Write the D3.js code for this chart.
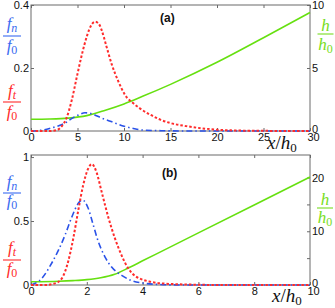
<!DOCTYPE html>
<html><head><meta charset="utf-8">
<script src="https://cdn.jsdelivr.net/npm/d3@7"></script>
<style>
html,body{margin:0;padding:0;background:#fff;}
svg{display:block;}
.tick text{font-family:"Liberation Sans",Arial,sans-serif;font-size:11px;fill:#111;}
</style></head>
<body>
<svg id="c" width="335" height="308"></svg>
<script>
// ---- data: panel (a) ----
const aXTicks = [0,5,10,15,20,25,30];
const aLeftTicks = [0,0.2,0.4];
const aRightTicks = [0,5,10];
const aFt = [[0,0],[1,0],[2,0],[2.8,0.003],[3.3,0.015],[3.8,0.04],[4.4,0.1],[4.9,0.168],[5.45,0.24],[6,0.3],[6.5,0.337],[6.9,0.347],[7.3,0.34],[7.6,0.32],[8.1,0.27],[8.7,0.21],[9.4,0.157],[10.1,0.115],[11,0.088],[11.7,0.072],[12.8,0.052],[13.9,0.036],[14.9,0.026],[17,0.014],[19.2,0.006],[21.5,0.002],[25,0.0005],[30,0]];
const aFn = [[0,0],[1,0.002],[2,0.008],[3,0.017],[3.7,0.026],[4.4,0.04],[5.1,0.051],[5.8,0.058],[6.5,0.055],[7.6,0.041],[8.7,0.029],[9.9,0.016],[11,0.008],[12,0.003],[14,0.001],[17,0],[30,0]];
const aH = [[0,0.93],[2,0.95],[4,1.02],[6,1.22],[8,1.65],[10,2.15],[12,2.75],[15,3.7],[20,5.45],[25,7.4],[30,9.4]];
// ---- data: panel (b) ----
const bXTicks = [0,2,4,6,8,10];
const bLeftTicks = [0,0.5,1];
const bRightTicks = [0,5,10,15,20];
const bRightLabels = [0,10,20];
const bFt = [[0,0],[0.5,0],[0.86,0.013],[1.1,0.05],[1.34,0.19],[1.52,0.37],[1.7,0.59],[1.87,0.78],[2.05,0.91],[2.18,0.945],[2.35,0.88],[2.53,0.73],[2.77,0.53],[3.0,0.37],[3.25,0.23],[3.5,0.125],[3.75,0.068],[3.9,0.05],[4.27,0.026],[5,0.008],[6,0.002],[7,0],[10,0]];
const bFn = [[0,0],[0.38,0.05],[0.74,0.17],[0.98,0.27],[1.22,0.39],[1.46,0.53],[1.7,0.64],[1.84,0.665],[2.05,0.6],[2.23,0.47],[2.41,0.34],[2.65,0.22],[2.89,0.14],[3.25,0.075],[3.6,0.035],[4,0.015],[4.5,0.005],[5,0.001],[6,0],[10,0]];
const bH = [[0,0.6],[1,0.7],[1.5,0.82],[2,1.0],[2.5,1.35],[3,2.0],[3.5,3.2],[4,4.5],[5,7.1],[6,9.7],[8,14.9],[10,20.1]];

const RED="#ff2b2b", BLUE="#2a52e8", GREEN="#66e010", AXC="#6a6a6a";
const LBLUE="#3a6af0", LRED="#ff2a2a", LGREEN="#77dd22";
const svg = d3.select("#c");

function panel(o){
  const g = svg.append("g");
  const x = d3.scaleLinear().domain(o.xd).range([31,310]);
  const yl = d3.scaleLinear().domain(o.yld).range([o.bot,o.top]);
  const yr = d3.scaleLinear().domain(o.yrd).range([o.bot,o.top]);
  const style = s => { s.select(".domain").remove(); s.selectAll(".tick line").attr("stroke",AXC); };
  const xa = g.append("g").attr("transform",`translate(0,${o.bot})`)
    .call(d3.axisBottom(x).tickValues(o.xt).tickSize(-3).tickPadding(2).tickFormat(d3.format("d"))).call(style);
  // last x label sits a little right of its tick, as in the reference
  xa.selectAll(".tick text").filter(d=>d===o.xd[1]).attr("dx",3);
  g.append("g").attr("transform",`translate(0,${o.top})`)
    .call(d3.axisTop(x).tickValues(o.xt).tickSize(-3).tickFormat("")).call(style);
  g.append("g").attr("transform",`translate(31,0)`)
    .call(d3.axisLeft(yl).tickValues(o.ylt).tickSize(-3).tickPadding(2).tickFormat(d=>d3.format("")(d))).call(style);
  const ra = g.append("g").attr("transform",`translate(310,0)`)
    .call(d3.axisRight(yr).tickValues(o.yrt).tickSize(-3).tickPadding(2).tickFormat(d=>o.yrl.includes(d)?d:"")).call(style);
  ra.selectAll(".tick text").filter(d=>d===0).attr("dy","0.1em");
  g.append("rect").attr("x",31).attr("y",o.top).attr("width",279).attr("height",o.bot-o.top)
    .attr("fill","none").attr("stroke",AXC).attr("stroke-width",1);
  const clip = "clip"+o.id;
  svg.append("clipPath").attr("id",clip).append("rect").attr("x",29).attr("y",o.top-2).attr("width",283).attr("height",o.bot-o.top+4);
  const pg = g.append("g").attr("clip-path",`url(#${clip})`);
  const lineL = d3.line().x(d=>x(d[0])).y(d=>yl(d[1])).curve(d3.curveMonotoneX);
  const lineR = d3.line().x(d=>x(d[0])).y(d=>yr(d[1])).curve(d3.curveMonotoneX);
  pg.append("path").attr("d",lineR(o.h)).attr("fill","none").attr("stroke",GREEN).attr("stroke-width",1.6);
  pg.append("path").attr("d",lineL(o.fn)).attr("fill","none").attr("stroke",BLUE).attr("stroke-width",1.6).attr("stroke-dasharray","6,3,1.5,3");
  pg.append("path").attr("d",lineL(o.ft)).attr("fill","none").attr("stroke",RED).attr("stroke-width",2).attr("stroke-dasharray","2.5,2");
  g.append("text").attr("x",o.tag[0]).attr("y",o.tag[1]).text(o.tag[2])
    .attr("font-family","Liberation Sans,Arial,sans-serif").attr("font-weight","bold").attr("font-size",12).attr("fill","#111");
}

function frac(cx, nb, bary, db, letter, sub, color, w){
  const f = "Liberation Serif, DejaVu Serif, serif";
  const t1 = svg.append("text").attr("x",cx).attr("y",nb).attr("text-anchor","middle")
    .attr("font-family",f).attr("font-size",17).attr("fill",color);
  t1.append("tspan").attr("font-style","italic").text(letter);
  if(sub) t1.append("tspan").attr("font-style","italic").attr("font-size",12).attr("dy",3).text(sub);
  svg.append("line").attr("x1",cx-w/2).attr("x2",cx+w/2).attr("y1",bary).attr("y2",bary).attr("stroke",color).attr("stroke-width",1.1);
  const t2 = svg.append("text").attr("x",cx).attr("y",db).attr("text-anchor","middle")
    .attr("font-family",f).attr("font-size",17).attr("fill",color);
  t2.append("tspan").attr("font-style","italic").text(letter==="h"?"h":"f");
  t2.append("tspan").attr("font-size",12).attr("dy",3).text("0");
}

function xlabel(x0, base){
  const f = "Liberation Serif, DejaVu Serif, serif";
  const t = svg.append("text").attr("x",x0).attr("y",base).attr("font-family",f).attr("font-size",19).attr("fill","#111");
  t.append("tspan").attr("font-style","italic").text("x");
  t.append("tspan").text("/");
  t.append("tspan").attr("font-style","italic").text("h");
  t.append("tspan").attr("font-size",13).attr("dy",3).text("0");
}

panel({id:"a", xd:[0,30], yld:[0,0.4], yrd:[0,10], top:5, bot:131, xt:aXTicks, ylt:aLeftTicks, yrt:aRightTicks, yrl:aRightTicks,
  ft:aFt, fn:aFn, h:aH, tag:[160,22,"(a)"]});
panel({id:"b", xd:[0,10], yld:[0,1.016], yrd:[0,24.2], top:155, bot:285, xt:bXTicks, ylt:bLeftTicks, yrt:bRightTicks, yrl:bRightLabels,
  ft:bFt, fn:bFn, h:bH, tag:[162,177,"(b)"]});

frac(12, 29, 36, 51, "f", "n", LBLUE, 18);
frac(12, 96, 102, 117, "f", "t", LRED, 18);
frac(12, 187, 193, 206, "f", "n", LBLUE, 18);
frac(12, 253, 260, 274, "f", "t", LRED, 18);
frac(325.5, 31, 34, 50, "h", "", LGREEN, 16);
frac(325, 205, 208, 223, "h", "", LGREEN, 16);
xlabel(267, 149);
xlabel(272, 302);
</script>
</body></html>
